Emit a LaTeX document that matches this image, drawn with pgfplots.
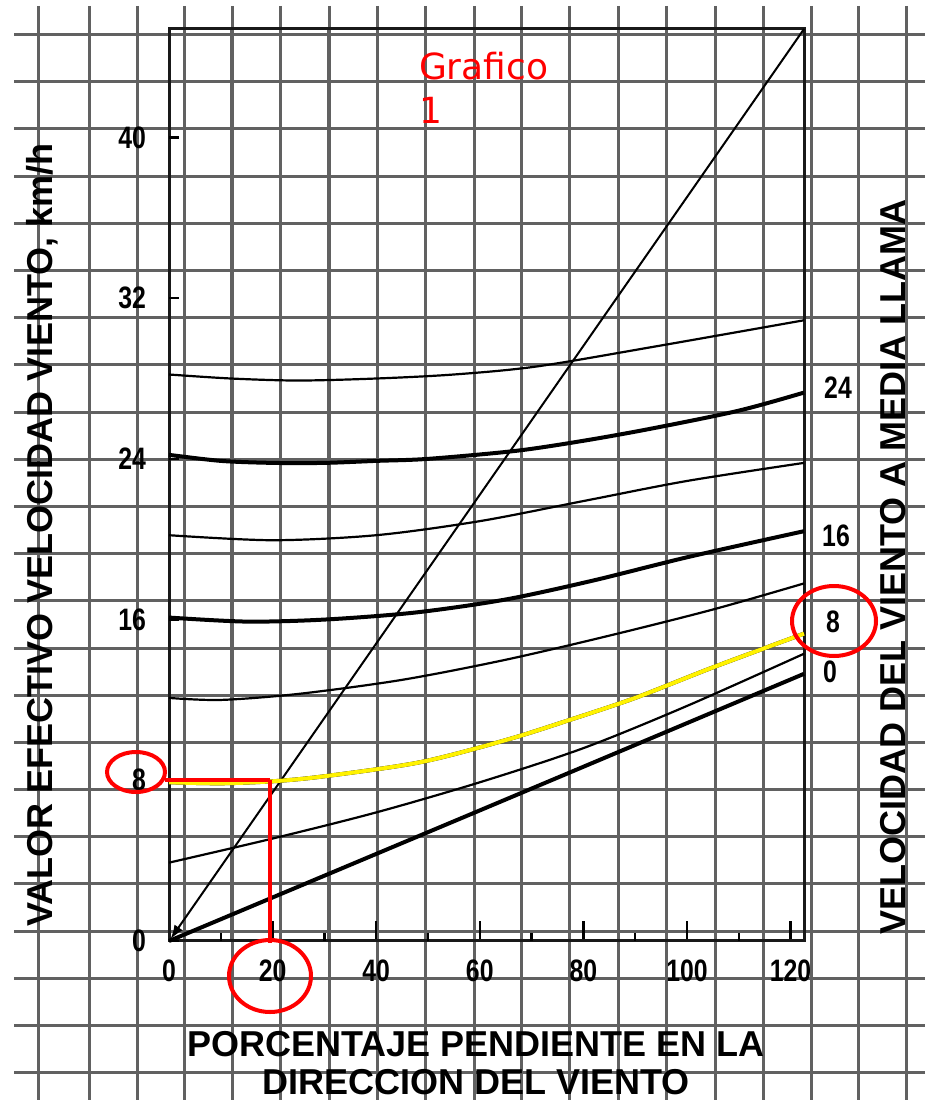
\documentclass[border=0pt]{standalone}
\usepackage{pgfplots}
\pgfplotsset{compat=1.18}
\usepackage{fontspec}
\setmainfont{Liberation Sans}
\newfontfamily\cond[FakeStretch=0.8]{Liberation Sans}
\newfontfamily\verd{DejaVu Sans}
\usetikzlibrary{arrows.meta}
\newcommand\lab{\bfseries\fontsize{18}{20}\selectfont}
\newcommand\num{\cond\bfseries\fontsize{15.5}{16}\selectfont}
\pgfplotsset{
  sheet/.style={
    at={(7pt,3pt)}, anchor=south west, scale only axis,
    width=455.5pt, height=547pt,
    xmin=14, xmax=925, ymin=6, ymax=1100, y dir=reverse,
    hide axis, clip=false},
}

\begin{document}
\begin{tikzpicture}
\useasboundingbox (0,0) rectangle (465pt,553pt);

% graph paper of the scan around the chart
\begin{scope}[x=0.5pt, y=-0.5pt, yshift=553pt, draw=black!62, line width=1.5pt]
  \foreach \gx in {38,89,137,184,232,280,329,377,425,474,521,569,618,666,715,763,811,858,906}
    \draw (\gx,6) -- (\gx,1100);
  \foreach \gy in {35,82,129,177,224,271,318,365,413,460,507,554,601,649,696,743,790,837,884,932,979,1026,1073}
    \draw (14,\gy) -- (925,\gy);
\end{scope}

% the chart
\begin{axis}[
  at={(84.5pt,82.5pt)}, anchor=south west, scale only axis,
  width=317.5pt, height=456pt,
  xmin=0, xmax=122.6, ymin=0, ymax=45.4, clip=false,
  axis line style={line width=1.5pt, black!90},
  xtick pos=left, ytick pos=left,
  tick align=inside,
  major tick length=10pt, minor tick length=0pt,
  tick style={line width=1.2pt, black},
  xtick={0,20,...,120},
  extra x ticks={10,30,...,110}, extra x tick labels={},
  extra x tick style={major tick length=4pt},
  ytick=\empty,
  extra y ticks={0,8,...,40},
  extra y tick style={major tick length=5pt},
  % the squares of the graph paper inside the chart
  minor xtick={2.90,12.16,21.43,30.89,40.16,49.43,58.89,67.96,77.23,86.69,95.96,105.42,114.69},
  minor ytick={0.45,2.84,5.18,7.52,9.86,12.20,14.54,16.93,19.27,21.60,23.94,26.28,28.67,31.01,33.35,35.69,38.03,40.42,42.76,45.10},
  xminorgrids, yminorgrids,
  minor grid style={black!62, line width=1.5pt},
  /pgf/number format/assume math mode=true,
  ticklabel style={font=\num},
  xticklabel style={yshift=-6pt},
  yticklabel style={xshift=-8pt},
]
% wind at mid-flame 0
\addplot[black, line width=2pt] coordinates {(0,0) (60,6.5) (122.6,13.3)};
% 4
\addplot[black, line width=1.1pt, smooth] coordinates {
  (0,3.9) (20,5.1) (40,6.4) (60,7.9) (80,9.6) (100,11.7) (122.6,14.3)};
% 8
\addplot[black, line width=2pt, smooth] coordinates {
  (0,7.9) (10,7.85) (20,7.95) (30,8.2) (48.5,8.9) (65,10.0) (77.3,11.0) (90,12.1) (104.8,13.6) (122.6,15.3)};
% 12
\addplot[black, line width=1.1pt, smooth] coordinates {
  (0,12.1) (10,12.0) (25,12.3) (45,13.0) (65,14.0) (85,15.2) (105,16.5) (122.6,17.8)};
% 16
\addplot[black, line width=2pt, smooth] coordinates {
  (0,16.1) (15,15.9) (30,16.0) (47.5,16.35) (65,17.0) (82,17.95) (100,19.1) (122.6,20.4)};
% 20
\addplot[black, line width=1.1pt, smooth] coordinates {
  (0,20.2) (20,19.95) (40,20.2) (60,20.9) (80,21.9) (100,22.9) (122.6,23.8)};
% 24
\addplot[black, line width=2pt, smooth] coordinates {
  (0,24.2) (10,23.9) (20,23.8) (30,23.8) (40,23.9) (50,24.0) (67,24.4) (80,24.9) (93,25.5) (110,26.4) (122.6,27.3)};
% 28
\addplot[black, line width=1.1pt, smooth] coordinates {
  (0,28.2) (12,28.0) (25,27.9) (40,28.0) (55,28.2) (71,28.6) (94,29.6) (122.6,30.9)};
% diagonal
\addplot[black, line width=1pt, {Latex[length=7pt,width=5pt]}-] coordinates {(0.3,0.1) (122.6,45.4)};
% worked example
\addplot[yellow, line width=2pt, smooth] coordinates {
  (0,7.9) (10,7.85) (20,7.95) (30,8.2) (48.5,8.9) (65,10.0) (77.3,11.0) (90,12.1) (104.8,13.6) (122.6,15.3)};
\addplot[red, line width=2.2pt] coordinates {(-0.8,8.0) (19.5,8.0)};
\addplot[red, line width=2pt] coordinates {(19.5,8.0) (19.5,-0.1)};
\end{axis}

% texts and red marks, in scan pixel coordinates
\begin{axis}[sheet]
\node[font=\lab, rotate=90] at (axis cs:42,535) {VALOR EFECTIVO VELOCIDAD VIENTO, km/h};
\node[font=\lab, rotate=90] at (axis cs:893,567) {VELOCIDAD DEL VIENTO A MEDIA LLAMA};
\node[font=\lab] at (axis cs:476,1044) {PORCENTAJE PENDIENTE EN LA};
\node[font=\lab] at (axis cs:476,1082) {DIRECCION DEL VIENTO};
\node[font=\num] at (axis cs:838,388) {24};
\node[font=\num] at (axis cs:836,536) {16};
\node[font=\num] at (axis cs:833,622) {8};
\node[font=\num] at (axis cs:830,672) {0};
\node[anchor=base west, text=red, font=\verd\fontsize{18}{20}\selectfont] at (axis cs:412,80) {Grafico};
\node[anchor=base west, text=red, font=\verd\fontsize{18}{20}\selectfont] at (axis cs:412,124) {1};
\draw[red, line width=2pt] (axis cs:136,772) ellipse [x radius=14.5pt, y radius=10pt];
\draw[red, line width=2pt] (axis cs:270,976) ellipse [x radius=20.5pt, y radius=18pt];
\draw[red, line width=2pt] (axis cs:834,621) ellipse [x radius=21pt, y radius=17.5pt];
\end{axis}
\end{tikzpicture}
\end{document}
